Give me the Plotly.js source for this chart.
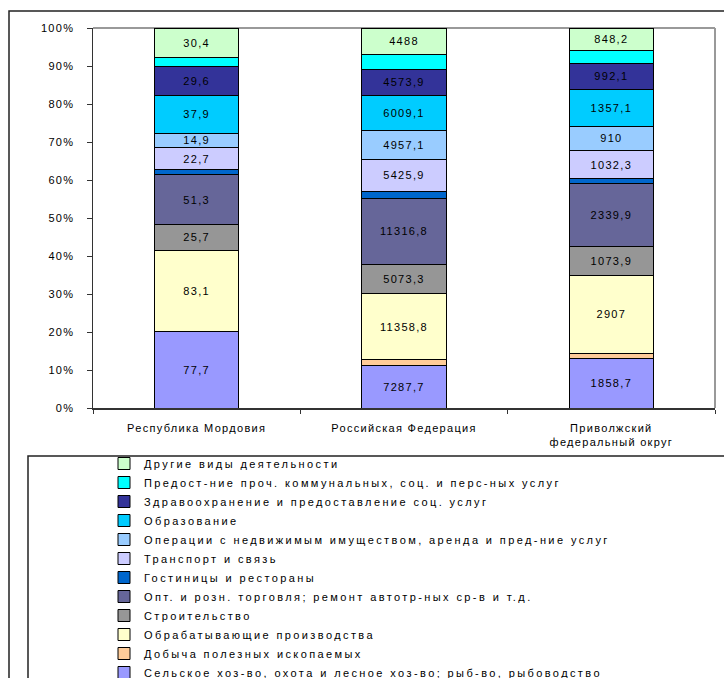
<!DOCTYPE html>
<html>
<head>
<meta charset="utf-8">
<script src="https://cdn.plot.ly/plotly-3.0.1.min.js"></script>
<style>
  html, body { margin: 0; padding: 0; background: #fff; overflow: hidden; }
  #chart { width: 724px; height: 700px; }
  svg text { letter-spacing: 1.3px; }
  svg text.legendtext { letter-spacing: 2.4px; }
</style>
</head>
<body>
<div id="chart"></div>
<script>
// Categories
const categories = ["Республика Мордовия", "Российская Федерация", "Приволжский<br>федеральный округ"];

// Series values (bottom to top of the stack)
const agriculture   = [77.7, 7287.7, 1858.7];
const mining        = [0, 1000, 170];
const manufacturing = [83.1, 11358.8, 2907];
const construction  = [25.7, 5073.3, 1073.9];
const trade         = [51.3, 11316.8, 2339.9];
const hotels        = [4.5, 1300, 200];
const transport     = [22.7, 5425.9, 1032.3];
const realEstate    = [14.9, 4957.1, 910];
const education     = [37.9, 6009.1, 1357.1];
const health        = [29.6, 4573.9, 992.1];
const communal      = [9, 2600, 460];
const other         = [30.4, 4488, 848.2];

// Series names
const names = [
  "Сельское хоз-во, охота и лесное хоз-во; рыб-во, рыбоводство",
  "Добыча полезных ископаемых",
  "Обрабатывающие производства",
  "Строительство",
  "Опт. и розн. торговля; ремонт автотр-ных ср-в и т.д.",
  "Гостиницы и рестораны",
  "Транспорт и связь",
  "Операции с недвижимым имуществом, аренда и пред-ние услуг",
  "Образование",
  "Здравоохранение и предоставление соц. услуг",
  "Предост-ние проч. коммунальных, соц. и перс-ных услуг",
  "Другие виды деятельности"
];
const series = [agriculture, mining, manufacturing, construction, trade, hotels,
                transport, realEstate, education, health, communal, other];
const colors = ["#9999FF", "#FFCC99", "#FFFFCC", "#969696", "#666699", "#0066CC",
                "#CCCCFF", "#99CCFF", "#00CCFF", "#333399", "#00FFFF", "#CCFFCC"];
const labelled = [true, false, true, true, true, false, true, true, true, true, false, true];

const fmt = v => String(v).replace('.', ',');

const traces = series.map((vals, i) => ({
  type: 'bar',
  name: names[i],
  x: categories,
  y: vals,
  text: labelled[i] ? vals.map(fmt) : vals.map(() => ''),
  texttemplate: '%{text}',
  textposition: labelled[i] ? 'inside' : 'none',
  insidetextanchor: 'middle',
  textangle: 0,
  textfont: { color: '#000', size: 11, family: 'Liberation Sans, Arial, sans-serif' },
  marker: { color: colors[i], line: { color: '#000', width: 1 } },
  hoverinfo: 'x+y+name'
}));

const px = p => (p - 93) / 622;
const py = p => (408 - p) / 380;

const layout = {
  width: 724, height: 700,
  margin: { l: 93, r: 9, t: 28, b: 292 },
  paper_bgcolor: '#fff', plot_bgcolor: '#fff',
  font: { family: 'Liberation Sans, Arial, sans-serif', size: 11, color: '#000' },
  barmode: 'stack',
  barnorm: 'percent',
  bargap: 0.593,
  uniformtext: { mode: 'show', minsize: 11 },
  showlegend: true,
  legend: {
    x: px(104), y: py(449), xanchor: 'left', yanchor: 'top',
    traceorder: 'reversed',
    bgcolor: 'rgba(0,0,0,0)',
    font: { size: 11, color: '#000' },
    itemclick: false
  },
  xaxis: {
    type: 'category',
    showline: true, linecolor: '#333', linewidth: 1.5,
    ticks: 'outside', tickson: 'boundaries', ticklen: 4, tickcolor: '#333',
    ticklabelstandoff: 9,
    showgrid: false, zeroline: false,
    tickfont: { size: 11, color: '#000' }
  },
  yaxis: {
    range: [0, 100], dtick: 10, ticksuffix: '%',
    showline: true, linecolor: '#333', linewidth: 1.5,
    ticks: 'outside', ticklen: 5, tickcolor: '#333',
    ticklabelstandoff: 10,
    showgrid: false, zeroline: false,
    tickfont: { size: 11, color: '#000' }
  },
  shapes: [
    { type: 'line', xref: 'paper', yref: 'paper', x0: 0, x1: 1, y0: 1, y1: 1,
      line: { color: '#999', width: 2 }, layer: 'below' },
    { type: 'line', xref: 'paper', yref: 'paper', x0: 1, x1: 1, y0: 0, y1: 1,
      line: { color: '#999', width: 2 }, layer: 'below' },
    { type: 'rect', xref: 'paper', yref: 'paper', x0: px(9), x1: px(740), y0: py(11), y1: py(720),
      line: { color: '#222', width: 1.5 }, fillcolor: 'rgba(0,0,0,0)', layer: 'below' },
    { type: 'rect', xref: 'paper', yref: 'paper', x0: px(28), x1: px(740), y0: py(456), y1: py(720),
      line: { color: '#222', width: 1.5 }, fillcolor: 'rgba(0,0,0,0)', layer: 'below' }
  ]
};

Plotly.newPlot('chart', traces, layout, { displayModeBar: false, staticPlot: true });
</script>
</body>
</html>
